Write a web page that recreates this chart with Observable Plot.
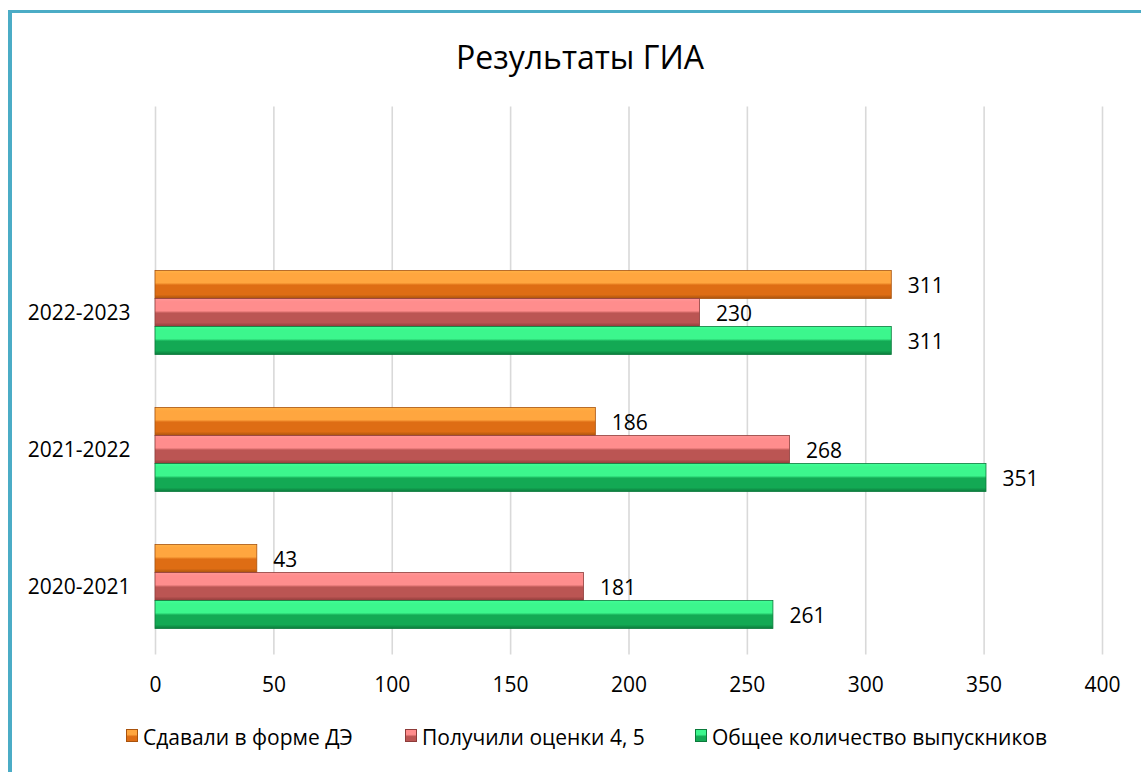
<!DOCTYPE html>
<html>
<head>
<meta charset="utf-8">
<script src="https://cdn.jsdelivr.net/npm/d3@7"></script>
<script src="https://cdn.jsdelivr.net/npm/@observablehq/plot@0.6"></script>
<style>
  html, body { margin: 0; padding: 0; background: #fff; }
  body { width: 1141px; height: 772px; position: relative; overflow: hidden; font-family: "Open Sans", sans-serif; color: #000; }
  #frame { position: absolute; left: 8px; top: 10px; right: -10px; bottom: -10px; border-left: 4px solid #4bacc6; border-top: 3px solid #4bacc6; pointer-events: none; }
  #title { position: relative; height: 95px; }
  #title span { position: absolute; top: 35px; left: 580px; transform: translateX(-50%); font-size: 32px; line-height: normal; white-space: nowrap; }
  #chart svg { display: block; }
  #legend { position: relative; height: 62px; }
  .item { position: absolute; top: 0; height: 62px; }
  .sw { position: absolute; top: 19px; left: 0; width: 12px; height: 13px; box-sizing: border-box; }
  .lt { position: absolute; top: 13px; left: 17px; font-size: 21px; line-height: normal; white-space: nowrap; }
</style>
</head>
<body>
<div id="frame"></div>
<div id="title"><span>Результаты ГИА</span></div>
<div id="chart"></div>
<div id="legend"></div>
<script>
// ---- data ----
const years = ["2020-2021", "2021-2022", "2022-2023"];
const seriesNames = ["Сдавали в форме ДЭ", "Получили оценки 4, 5", "Общее количество выпускников"];
const deValues = [43, 186, 311];
const goodValues = [181, 268, 230];
const totalValues = [261, 351, 311];
const xTicks = [0, 50, 100, 150, 200, 250, 300, 350, 400];

// ---- styles ----
const palette = [
  {light: "#ffa63f", dark: "#de6d14", edge: "#a9530d"},
  {light: "#ff8d8d", dark: "#bb5553", edge: "#8e3c3a"},
  {light: "#3cf68d", dark: "#13a954", edge: "#0b7a3b"}
];
const seriesValues = [deValues, goodValues, totalValues];
const rows = [];
seriesValues.forEach((vals, s) => {
  years.forEach((y, i) => rows.push({year: y, series: s, name: seriesNames[s], value: vals[i]}));
});

// inset within a 137px band: bars 28px each, stacked around band centre
const insets = [
  {top: 26.5, bottom: 82.5, dy: -26.5},
  {top: 54.5, bottom: 54.5, dy: 1.5},
  {top: 82.5, bottom: 26.5, dy: 29.5}
];

const height = 615, marginTop = 11.5, marginBottom = 55.5;
const marks = [
  Plot.ruleX(xTicks, {stroke: "#d9d9d9", strokeWidth: 1.6})
];
palette.forEach((p, s) => {
  const data = rows.filter(d => d.series === s);
  marks.push(Plot.barX(data, {
    x: "value", y: "year",
    fill: `url(#grad${s})`, stroke: p.edge, strokeWidth: 0.8,
    insetTop: insets[s].top, insetBottom: insets[s].bottom
  }));
  marks.push(Plot.text(data, {
    x: "value", y: "year", text: d => String(d.value),
    textAnchor: "start", dx: 16, dy: insets[s].dy, fontSize: 21, fill: "#000"
  }));
});
marks.push(Plot.axisX({ticks: xTicks, tickSize: 0, tickPadding: 22, fontSize: 21, label: null, fill: "#000"}));
marks.push(Plot.axisY({tickSize: 0, tickPadding: 25, fontSize: 21, label: null, fill: "#000"}));

const chart = Plot.plot({
  width: 1141,
  height,
  marginTop,
  marginBottom,
  marginLeft: 155,
  marginRight: 39,
  style: {fontFamily: "Open Sans, sans-serif", color: "#000", background: "transparent", overflow: "visible"},
  x: {domain: [0, 400], label: null},
  // categories occupy the lower three quarters of the plot area (empty space above, as in the original)
  y: {domain: years.slice().reverse(), range: [marginTop + 137, height - marginBottom], padding: 0, label: null},
  marks
});

// gradients giving the bevelled look
const defs = d3.select(chart).insert("defs", ":first-child");
palette.forEach((p, s) => {
  const g = defs.append("linearGradient").attr("id", `grad${s}`)
    .attr("x1", 0).attr("y1", 0).attr("x2", 0).attr("y2", 1);
  [[0, d3.color(p.light).brighter(0.2)], [0.12, p.light], [0.44, p.light], [0.52, p.dark],
   [0.86, p.dark], [1, p.edge]].forEach(([o, c]) =>
    g.append("stop").attr("offset", o).attr("stop-color", String(c)));
});
document.getElementById("chart").appendChild(chart);

// legend
const legendLefts = [126, 405, 695];
const legend = document.getElementById("legend");
seriesNames.forEach((name, s) => {
  const p = palette[s];
  const item = document.createElement("div");
  item.className = "item";
  item.style.left = legendLefts[s] + "px";
  const sw = document.createElement("div");
  sw.className = "sw";
  sw.style.background = `linear-gradient(to bottom, ${p.light} 0%, ${p.light} 40%, ${p.dark} 60%, ${p.dark} 100%)`;
  sw.style.border = `1px solid ${p.edge}`;
  const lt = document.createElement("div");
  lt.className = "lt";
  lt.textContent = name;
  item.appendChild(sw);
  item.appendChild(lt);
  legend.appendChild(item);
});
</script>
</body>
</html>
